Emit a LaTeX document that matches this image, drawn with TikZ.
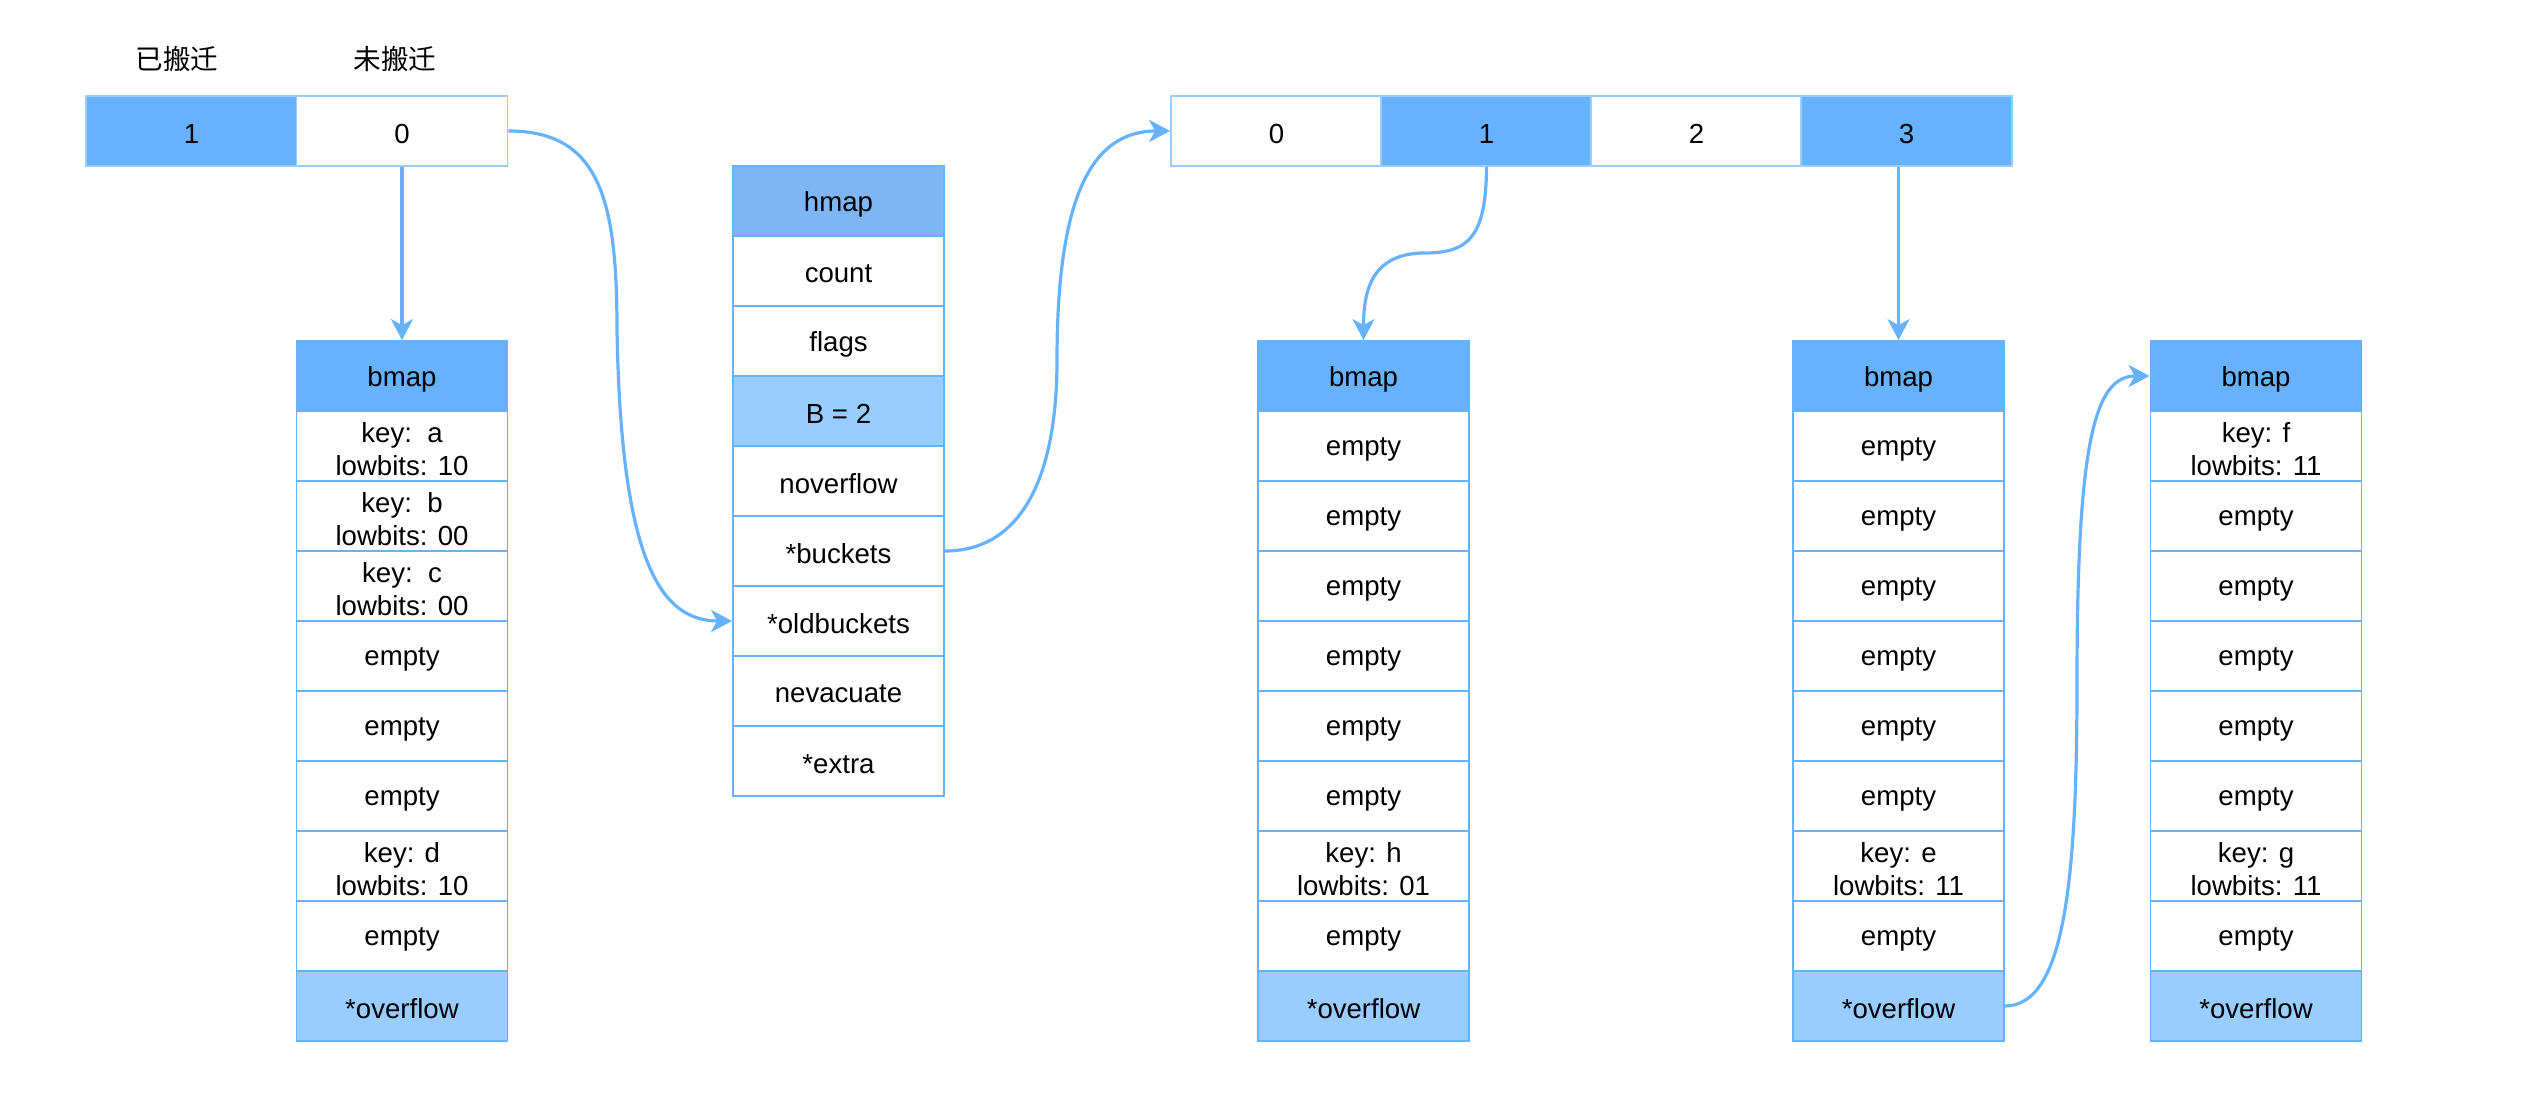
\documentclass[tikz,border=0pt]{standalone}
\usepackage{fontspec}
\setmainfont{Liberation Sans}
\newfontfamily\cjk{Noto Sans CJK SC}
\usetikzlibrary{arrows.meta}

\definecolor{hdrblue}{HTML}{66B2FF}
\definecolor{hmapblue}{HTML}{7EB6F5}
\definecolor{lightblue}{HTML}{99CCFF}
\definecolor{edgeblue}{HTML}{66B2FF}

\tikzset{
  cell/.style={draw=edgeblue, line width=0.9pt, fill=white,
    minimum width=105.5pt, minimum height=35pt, inner sep=0pt},
  hdr/.style={cell, fill=hdrblue},
  hhdr/.style={cell, fill=hmapblue},
  soft/.style={cell, fill=lightblue},
  slot/.style={cell, draw=lightblue},
  slotfull/.style={slot, fill=hdrblue},
  celltext/.style={inner sep=0pt, align=center,
    font=\fontsize{13.8}{16.5}\selectfont},
  caption/.style={inner sep=0pt, font=\cjk\fontsize{13.8}{16.5}\selectfont},
  link/.style={draw=edgeblue, line width=1.6pt,
    -{Stealth[length=10.5pt, width=11pt, inset=3pt]}},
}

% one column of cells: name prefix, x centre, y centre of first cell, list of style/text
\newcommand\cellcolumn[4]{%
  \foreach \s/\t [count=\i from 0] in {#4} {
    \node[\s] (#1\i) at (#2, #3+70*\i) {};
    \node[celltext] (#1t\i) at ([yshift=-1.5pt]#1\i.center) {\t};
  }%
}
% a single boxed value
\newcommand\slotcell[4]{%
  \node[#1] (#2) at (#3) {};
  \node[celltext] (#2t) at ([yshift=-1.5pt]#2.center) {#4};
}

\begin{document}
\begin{tikzpicture}[x=0.5pt, y=-0.5pt]
  \useasboundingbox (0,0) rectangle (2546,1111);

  % migration state array
  \node[caption] (done) at (177,59) {已搬迁};
  \node[caption] (todo) at (395,59) {未搬迁};
  \slotcell{slotfull}{o0}{191.5,131}{1}
  \slotcell{slot}{o1}{402,131}{0}

  % old bucket
  \cellcolumn{L}{402}{376}{hdr/bmap, cell/{key:\ \ a\\lowbits: 10}, cell/{key:\ \ b\\lowbits: 00},
    cell/{key:\ \ c\\lowbits: 00}, cell/empty, cell/empty, cell/empty,
    cell/{key: d\\lowbits: 10}, cell/empty, soft/*overflow}

  % hmap header
  \cellcolumn{H}{838.5}{201}{hhdr/hmap, cell/count, cell/flags, soft/{B = 2},
    cell/noverflow, cell/*buckets, cell/*oldbuckets, cell/nevacuate, cell/*extra}

  % new bucket array
  \slotcell{slot}{n0}{1276.5,131}{0}
  \slotcell{slotfull}{n1}{1486.5,131}{1}
  \slotcell{slot}{n2}{1696.5,131}{2}
  \slotcell{slotfull}{n3}{1906.5,131}{3}

  % new buckets
  \cellcolumn{A}{1363.5}{376}{hdr/bmap, cell/empty, cell/empty, cell/empty, cell/empty,
    cell/empty, cell/empty, cell/{key: h\\lowbits: 01}, cell/empty, soft/*overflow}
  \cellcolumn{B}{1898.5}{376}{hdr/bmap, cell/empty, cell/empty, cell/empty, cell/empty,
    cell/empty, cell/empty, cell/{key: e\\lowbits: 11}, cell/empty, soft/*overflow}
  \cellcolumn{C}{2256}{376}{hdr/bmap, cell/{key: f\\lowbits: 11}, cell/empty, cell/empty,
    cell/empty, cell/empty, cell/empty, cell/{key: g\\lowbits: 11}, cell/empty, soft/*overflow}

  % pointers
  \draw[link] (o1.south) -- (L0.north);

  \coordinate (k1) at (617,330);
  \draw[link] (o1.east) .. controls (600,131) and (617,200) .. (k1)
    .. controls (621,560) and (660,621) .. (H6.west);

  \coordinate (k2) at (1057,360);
  \draw[link] (H5.east) .. controls (1020,551) and (1057,480) .. (k2)
    .. controls (1057,200) and (1090,131) .. (n0.west);

  \coordinate (k3) at (1425,253);
  \draw[link] (n1.south) .. controls (1486,235) and (1470,253) .. (k3)
    .. controls (1372,253) and (1363.5,290) .. (A0.north);

  \draw[link] (B0.north |- n3.south) -- (B0.north);

  \coordinate (k4) at (2077,680);
  \draw[link] (B9.east) .. controls (2065,1006) and (2077,880) .. (k4)
    .. controls (2077,440) and (2095,376) .. (C0.west);
\end{tikzpicture}
\end{document}
